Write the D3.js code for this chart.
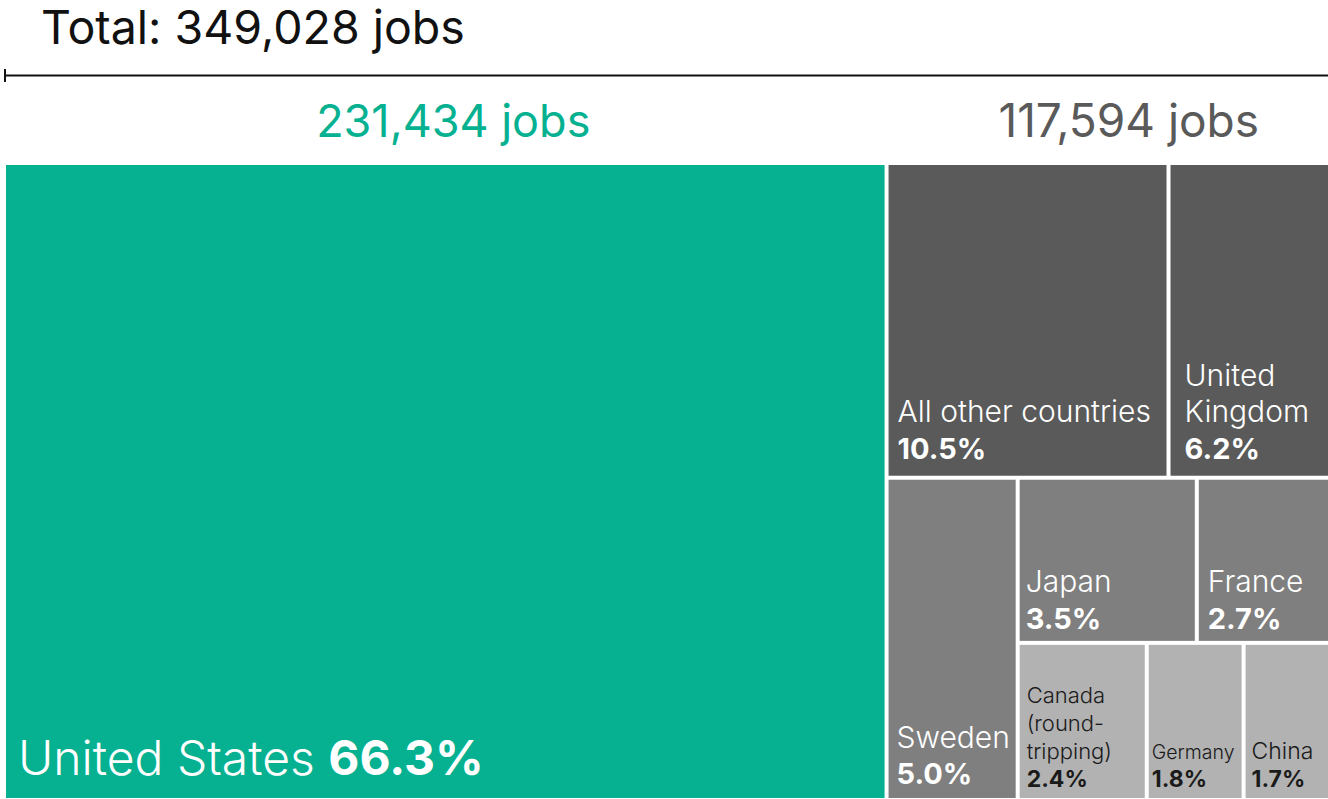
<!DOCTYPE html>
<html>
<head>
<meta charset="utf-8">
<script src="https://cdn.jsdelivr.net/npm/d3@7"></script>
<style>
  html, body { margin: 0; padding: 0; background: #fff; overflow: hidden; }
  svg { display: block; font-family: Inter, "Noto Sans", sans-serif; }
</style>
</head>
<body>
<svg id="chart" width="1328" height="799"></svg>
<script>
// ---- data ----
const totalJobs = 349028;
const usJobs = 231434;
const otherJobs = 117594;
const countries = ["United States", "All other countries", "United Kingdom", "Sweden", "Japan", "France", "Canada (round-tripping)", "Germany", "China"];
const jobs = [231434, 36531, 21571, 17395, 12177, 9394, 8350, 6263, 5913];
const pctLabels = ["66.3%", "10.5%", "6.2%", "5.0%", "3.5%", "2.7%", "2.4%", "1.8%", "1.7%"];
const nameLines = [["United States"], ["All other countries"], ["United", "Kingdom"], ["Sweden"], ["Japan"], ["France"], ["Canada", "(round-", "tripping)"], ["Germany"], ["China"]];
// nesting path for the treemap layout (group membership)
const groupOf = ["us", "top", "top", "bottom", "jf", "jf", "cgc", "cgc", "cgc"];
const tier = [0, 1, 1, 2, 2, 2, 3, 3, 3];

// ---- styles ----
const tierFill = ["#05b190", "#5a5a5a", "#7f7f7f", "#b2b2b2"];
const tierText = ["#ffffff", "#ffffff", "#ffffff", "#1a1a1a"];
const nameSize = [48, 30, 30, 30, 30, 30, 22, 19.5, 23];
const pctSize = [48, 29, 29, 29, 29, 29, 23, 23, 23];
const padX = [12, 9, 14, 8, 6, 9, 7, 3, 6];
const padBottom = [23, 17, 17, 14, 12, 12, 11, 11, 11];

const svg = d3.select("#chart");
const ox = 6, oy = 165;

// ---- build hierarchy from arrays ----
const leaf = i => ({ name: countries[i], value: jobs[i], idx: i });
const idxs = g => groupOf.map((v, i) => v === g ? i : -1).filter(i => i >= 0);
const treeData = {
  name: "root",
  children: [
    leaf(0),
    { name: "rest", children: [
      { name: "top", children: idxs("top").map(leaf) },
      { name: "bottom", children: [
        ...idxs("bottom").map(leaf),
        { name: "sub", children: [
          { name: "jf", children: idxs("jf").map(leaf) },
          { name: "cgc", children: idxs("cgc").map(leaf) }
        ]}
      ]}
    ]}
  ]
};

const root = d3.hierarchy(treeData).sum(d => d.value || 0);
d3.treemap()
  .tile(d3.treemapSliceDice)
  .size([1333 - ox, 798 - oy])
  .paddingInner(4)
  .round(false)(root);

const leaves = root.leaves();
const g = svg.append("g").attr("transform", `translate(${ox},${oy})`);

g.append("g").selectAll("rect")
  .data(leaves)
  .join("rect")
  .attr("x", d => d.x0)
  .attr("y", d => d.y0)
  .attr("width", d => d.x1 - d.x0)
  .attr("height", d => d.y1 - d.y0)
  .attr("fill", d => tierFill[tier[d.data.idx]]);

// ---- labels inside cells ----
const lg = g.append("g");
leaves.forEach(d => {
  const i = d.data.idx;
  const col = tierText[tier[i]];
  const fs = nameSize[i], ps = pctSize[i];
  const x = d.x0 + padX[i];
  if (i === 0) {
    const t = lg.append("text")
      .attr("x", x).attr("y", d.y1 - padBottom[i])
      .attr("fill", col).style("font-size", fs + "px");
    t.append("tspan").attr("font-weight", 300).text(nameLines[i][0] + " ");
    t.append("tspan").attr("font-weight", 700).text(pctLabels[i]);
    return;
  }
  const pb = d.y1 - padBottom[i];
  lg.append("text")
    .attr("x", x).attr("y", pb)
    .attr("fill", col).attr("font-weight", 700)
    .style("font-size", ps + "px")
    .text(pctLabels[i]);
  const lh = tier[i] === 3 ? 28 : 36.5;
  const lines = nameLines[i];
  lines.forEach((ln, k) => {
    lg.append("text")
      .attr("x", x).attr("y", pb - lh * (lines.length - k))
      .attr("fill", col).attr("font-weight", 300)
      .style("font-size", fs + "px")
      .text(ln);
  });
});

// ---- header ----
const fmt = d3.format(",");
svg.append("text")
  .attr("x", 41).attr("y", 44)
  .attr("fill", "#111").attr("font-weight", 400)
  .style("font-size", "46.5px")
  .text("Total: " + fmt(totalJobs) + " jobs");

svg.append("line")
  .attr("x1", 4).attr("x2", 1328).attr("y1", 75.5).attr("y2", 75.5)
  .attr("stroke", "#111").attr("stroke-width", 2);
svg.append("line")
  .attr("x1", 5).attr("x2", 5).attr("y1", 69).attr("y2", 82)
  .attr("stroke", "#111").attr("stroke-width", 2);

const usNode = leaves.find(d => d.data.idx === 0);
const restNode = root.children[1];
svg.append("text")
  .attr("x", ox + (usNode.x0 + usNode.x1) / 2 + 8).attr("y", 137)
  .attr("text-anchor", "middle")
  .attr("fill", "#05b190").attr("font-weight", 400)
  .style("font-size", "45px")
  .text(fmt(usJobs) + " jobs");
svg.append("text")
  .attr("x", ox + (restNode.x0 + restNode.x1) / 2 + 18).attr("y", 137)
  .attr("text-anchor", "middle")
  .attr("fill", "#5a5a5a").attr("font-weight", 400)
  .style("font-size", "46px")
  .text(fmt(otherJobs) + " jobs");
</script>
</body>
</html>
